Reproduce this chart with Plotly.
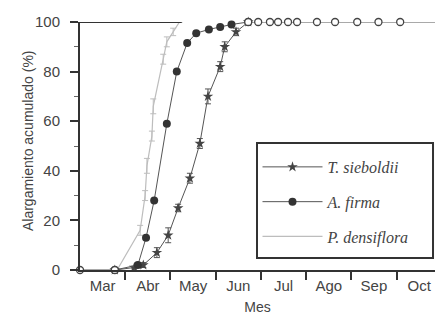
import plotly.graph_objects as go

# Months (Mar = 0 ... each unit is one month)
months = ["Mar", "Abr", "May", "Jun", "Jul", "Ago", "Sep", "Oct"]
month_starts = [1, 2, 3, 4, 5, 6, 7]
month_mids = [0.5, 1.5, 2.5, 3.5, 4.5, 5.5, 6.5, 7.5]

# T. sieboldii
ts_x = [0.77, 1.2, 1.4, 1.7, 1.95, 2.17, 2.43, 2.65, 2.83, 3.1, 3.2, 3.45, 3.72]
ts_y = [0, 1, 2, 7, 14, 25, 37, 51, 70, 82, 90, 96, 100]
ts_err = [0, 0.5, 1, 2, 3, 1.5, 2, 2, 3, 2, 2, 1.5, 0]

# A. firma
af_x = [0.77, 1.28, 1.46, 1.64, 1.92, 2.14, 2.37, 2.57, 2.85, 3.1, 3.35, 3.72]
af_y = [0, 2, 13, 28, 59, 80, 91.5, 95.5, 97, 98, 99, 100]

# P. densiflora
pd_x = [0.82, 1.33, 1.44, 1.48, 1.59, 1.62, 1.84, 1.92, 2.06, 2.2]
pd_y = [0, 16, 30, 42, 54, 66, 85, 92, 96, 100]
pd_err = [0, 2, 2, 3, 2, 3, 2, 2, 1.5, 0]

# Points shared by all species (open circles)
common_x = [0, 0.77, None, 3.72, 3.94, 4.2, 4.38, 4.6, 4.8, 5.24, 5.64, 6.13, 6.6, 7.08, 8.0]
common_y = [0, 0, None, 100, 100, 100, 100, 100, 100, 100, 100, 100, 100, 100, 100]

X_RANGE = [0, 7.85]
FRAME_END = 2.25

dark = "#333333"
text_col = "#444444"
legend_font = "Times New Roman, Liberation Serif, serif"

fig = go.Figure()

fig.add_trace(go.Scatter(
    x=pd_x, y=pd_y, name="<i>P. densiflora</i>", legendgroup="pd", legendrank=3,
    mode="lines", line=dict(color="#bdbdbd", width=1.2),
    error_y=dict(type="data", array=pd_err, color="#bdbdbd", thickness=1, width=3),
    cliponaxis=False,
))
fig.add_trace(go.Scatter(
    x=ts_x, y=ts_y, name="<i>T. sieboldii</i>", legendgroup="ts", legendrank=1,
    mode="lines+markers", line=dict(color="#555555", width=1),
    marker=dict(symbol="star", size=8, color="#444444"),
    error_y=dict(type="data", array=ts_err, color="#555555", thickness=1, width=3),
    cliponaxis=False,
))
fig.add_trace(go.Scatter(
    x=af_x, y=af_y, name="<i>A. firma</i>", legendgroup="af", legendrank=2,
    mode="lines+markers", line=dict(color="#555555", width=1),
    marker=dict(symbol="circle", size=8, color="#333333"),
    cliponaxis=False,
))
fig.add_trace(go.Scatter(
    x=common_x, y=common_y, xaxis="x2", showlegend=False,
    mode="lines+markers", line=dict(color="#555555", width=1.2),
    marker=dict(symbol="circle", size=7, color="white", line=dict(color="#444444", width=1.3)),
    cliponaxis=False, connectgaps=False,
))

fig.update_layout(
    width=435, height=320,
    margin=dict(l=80, r=0, t=22, b=50),
    paper_bgcolor="white", plot_bgcolor="white",
    font=dict(family="Liberation Sans, Arial, sans-serif", size=14, color=text_col),
    xaxis=dict(
        range=X_RANGE, showgrid=False, zeroline=False,
        showline=True, linecolor=dark, linewidth=2,
        ticks="outside", ticklen=8, tickwidth=1.5, tickcolor=dark,
        tickvals=month_starts, ticktext=[""] * len(month_starts),
    ),
    xaxis2=dict(
        overlaying="x", matches="x", anchor="y", side="bottom",
        range=X_RANGE, showgrid=False, zeroline=False, showline=False,
        ticks="", tickvals=month_mids, ticktext=months,
        tickfont=dict(size=15), ticklabelstandoff=5,
        title=dict(text="Mes", font=dict(size=14), standoff=9),
    ),
    yaxis=dict(
        range=[0, 100], showgrid=False, zeroline=False,
        showline=True, linecolor=dark, linewidth=2,
        ticks="outside", ticklen=8, tickwidth=1.5, tickcolor=dark,
        tickvals=[0, 20, 40, 60, 80, 100], ticklabelstandoff=7,
        tickfont=dict(size=15),
        minor=dict(ticks="outside", ticklen=4, tickwidth=1, tickcolor="#666666", dtick=10),
    ),
    legend=dict(
        x=0.5, y=0.484, xanchor="left", yanchor="top",
        bgcolor="rgba(0,0,0,0)", borderwidth=0,
        font=dict(family=legend_font, size=16, color=text_col),
        tracegroupgap=11, entrywidth=150, itemwidth=60,
    ),
    annotations=[
        dict(text="Alargamiento acumulado (%)", xref="paper", yref="paper",
             x=-0.1465, y=0.524, xanchor="center", yanchor="middle",
             textangle=-90, showarrow=False, font=dict(size=14, color=text_col)),
    ],
    shapes=[
        dict(type="line", xref="x", yref="y", x0=0, x1=FRAME_END, y0=100, y1=100,
             line=dict(color=dark, width=2)),
        # legend frame
        dict(type="rect", xref="paper", yref="paper", x0=0.4986, x1=0.9944, y0=0.048, y1=0.512,
             line=dict(color=dark, width=2), fillcolor="rgba(0,0,0,0)"),
    ],
)

fig.write_html("out.html")
